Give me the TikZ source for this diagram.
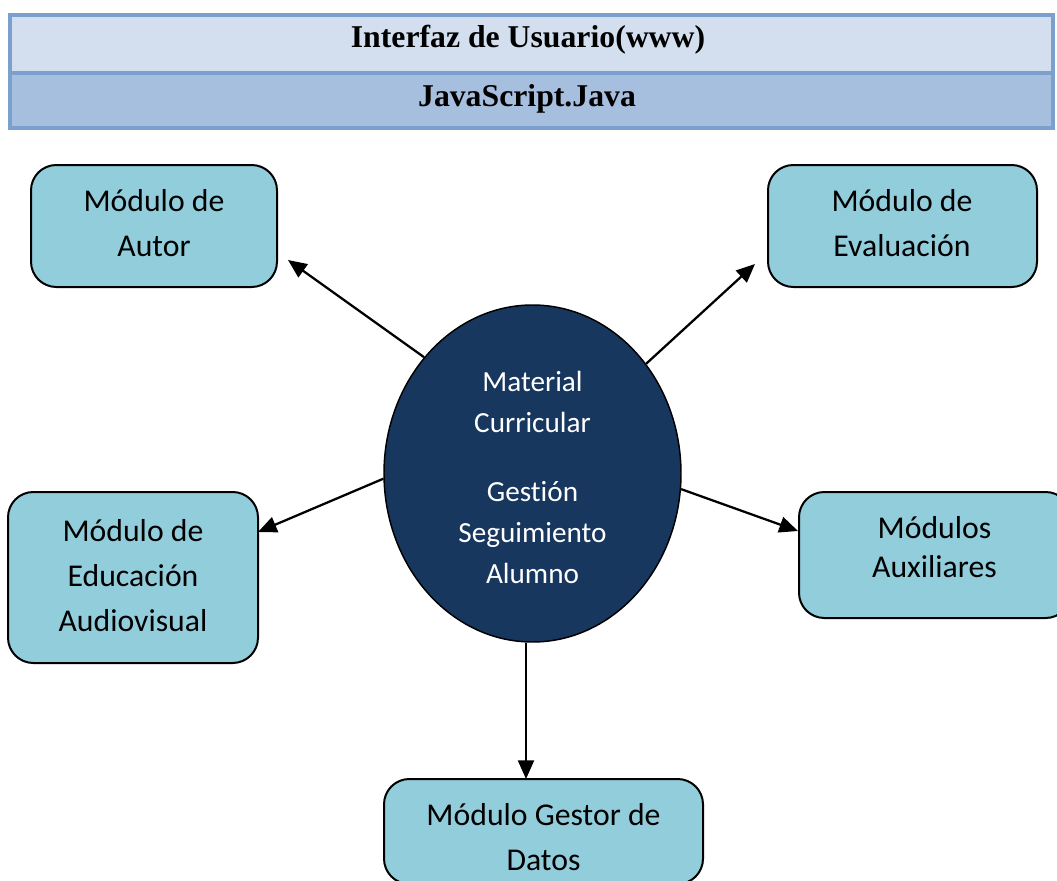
\documentclass[tikz,border=0pt]{standalone}
\usepackage{fontspec}
\setmainfont{Carlito}[Ligatures=NoCommon]
\newfontfamily\headfont{Liberation Serif}
\usetikzlibrary{arrows.meta,shapes.geometric}
\definecolor{hdrlight}{HTML}{D3DFEE}
\definecolor{hdrdark}{HTML}{A7BFDE}
\definecolor{hdrline}{HTML}{7BA0CD}
\definecolor{boxfill}{HTML}{92CDDC}
\definecolor{navy}{HTML}{17375E}
\tikzset{
  modbox/.style={draw=black, line width=1.5pt, fill=boxfill, rounded corners=19pt, inner sep=0pt},
  modtext/.style={align=center, inner sep=0pt, font=\fontsize{23.8}{33.75}\selectfont},
  hdrbar/.style={draw=hdrline, line width=2.3pt},
  hdrtext/.style={inner sep=0pt, anchor=base, font=\headfont\bfseries\fontsize{23.8}{28}\selectfont},
  arr/.style={line width=1.7pt, -{Triangle[length=14pt,width=12pt]}},
}
\begin{document}
\begin{tikzpicture}[x=0.75pt,y=-0.75pt]
\useasboundingbox (0,0) rectangle (1057,881);
\clip (0,0) rectangle (1057,881);
% header bars
\path[hdrbar, fill=hdrlight] (10,15) rectangle (1053,73);
\path[hdrbar, fill=hdrdark] (10,73) rectangle (1053,128);
\node[hdrtext] (h1) at (528,48) {Interfaz de Usuario(www)};
\node[hdrtext] (h2) at (527,107) {JavaScript.Java};
% central ellipse
\node[ellipse, draw=black, line width=1.1pt, fill=navy, inner sep=0pt,
      minimum width=222.75pt, minimum height=252.75pt] (ell) at (532.5,473.5) {};
\node[align=center, inner sep=0pt, text=white, font=\fontsize{21.9}{30.75}\selectfont] (ellT) at (532.5,477)
  {Material\\Curricular\\[21pt]Gestión\\Seguimiento\\Alumno};
% module boxes
\node[modbox, minimum width=184.5pt, minimum height=91.5pt] (autor) at (154,226) {};
\node[modtext] (autorT) at (154,223.5) {Módulo de\\Autor};
\node[modbox, minimum width=201.75pt, minimum height=91.5pt] (eval) at (902.5,226) {};
\node[modtext] (evalT) at (902,223.5) {Módulo de\\Evaluación};
\node[modbox, minimum width=187.5pt, minimum height=128.25pt] (educ) at (133,577.5) {};
\node[modtext] (educT) at (133,575.5) {Módulo de\\Educación\\Audiovisual};
\node[modbox, minimum width=204pt, minimum height=94.5pt] (aux) at (935,555) {};
\node[modtext, font=\fontsize{23.8}{29.25}\selectfont] (auxT) at (934.5,547.5) {Módulos\\Auxiliares};
\node[modbox, minimum width=239.25pt, minimum height=78.75pt] (gest) at (543.5,831.5) {};
\node[modtext] (gestT) at (543.5,837) {Módulo Gestor de\\Datos};
% arrow tips
\coordinate (tAutor) at (288,260);
\coordinate (tEval) at (755,264);
\coordinate (tEduc) at (258,532);
\coordinate (tAux) at (798,531);
\coordinate (tGest) at (526,779);
% connectors
\draw[arr] (ell.133.7) -- (tAutor);
\draw[arr] (ell.44.5) -- (tEval);
\draw[arr] (ell.182) -- (tEduc);
\draw[arr] (ell.-6.7) -- (tAux);
\draw[arr] (ell.south -| tGest) -- (tGest);
\end{tikzpicture}
\end{document}
